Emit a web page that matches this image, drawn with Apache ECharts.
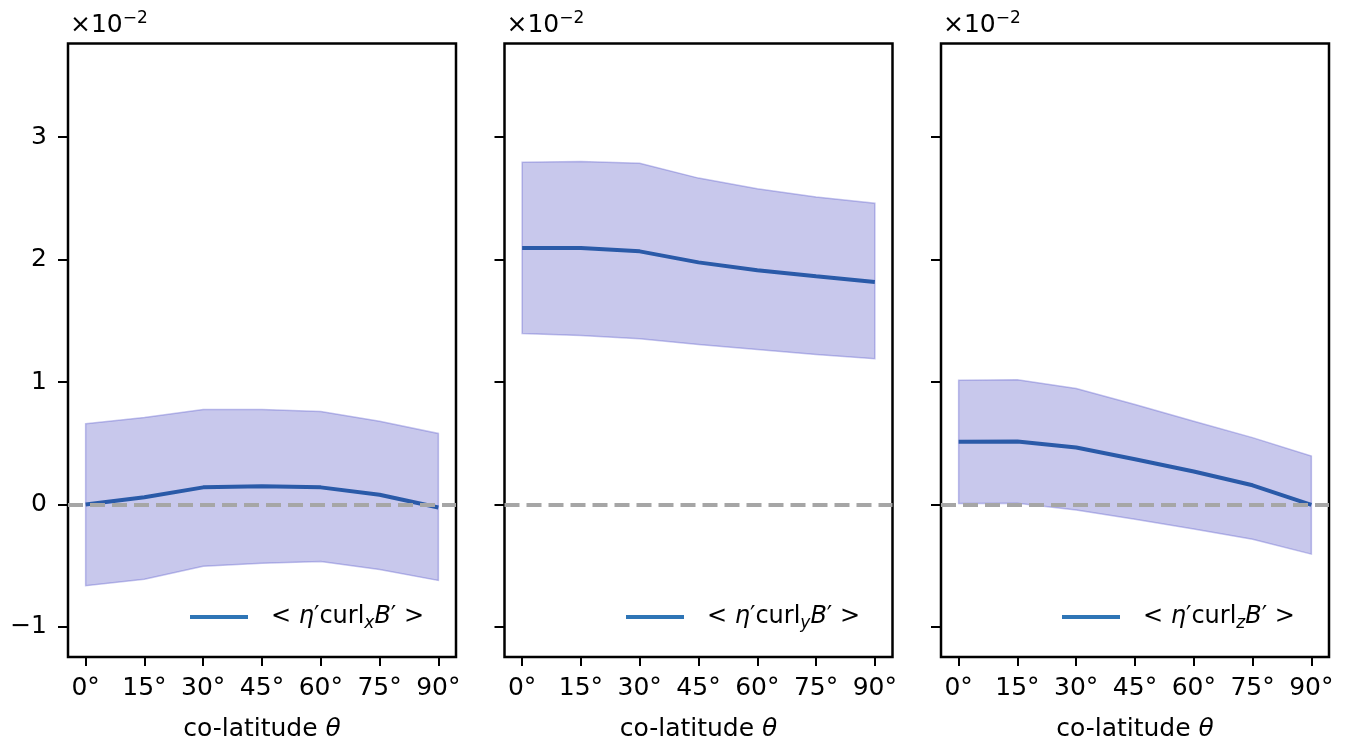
<!DOCTYPE html>
<html>
<head>
<meta charset="utf-8">
<script src="https://cdn.jsdelivr.net/npm/echarts@6/dist/echarts.min.js"></script>
<style>html,body{margin:0;padding:0;background:#fff}#c{width:1345px;height:747px}</style>
</head>
<body>
<div id="c"></div>
<script>
// ---- data (values in units of 1e-2) ----
const angles = [0, 15, 30, 45, 60, 75, 90];
const xTickValues = [0, 15, 30, 45, 60, 75, 90];
const yTickValues = [-1, 0, 1, 2, 3];

const meanX  = [0.0, 0.06, 0.14, 0.15, 0.14, 0.08, -0.025];
const upperX = [0.66, 0.71, 0.775, 0.775, 0.76, 0.68, 0.58];
const lowerX = [-0.663, -0.61, -0.505, -0.48, -0.465, -0.53, -0.62];

const meanY  = [2.094, 2.094, 2.067, 1.977, 1.912, 1.863, 1.817];
const upperY = [2.795, 2.80, 2.787, 2.665, 2.578, 2.51, 2.46];
const lowerY = [1.396, 1.38, 1.353, 1.306, 1.266, 1.225, 1.19];

const meanZ  = [0.513, 0.515, 0.465, 0.37, 0.27, 0.157, -0.003];
const upperZ = [1.015, 1.018, 0.948, 0.817, 0.68, 0.546, 0.396];
const lowerZ = [0.008, 0.01, -0.044, -0.12, -0.2, -0.283, -0.405];

const seriesNames = ['<η′curl_xB′>', '<η′curl_yB′>', '<η′curl_zB′>'];
const subscripts = ['x', 'y', 'z'];
const offsetText = ['×10', '−2'];

// ---- layout ----
const FONT = 'DejaVu Sans';
const FS = 25;
const gridLefts = [68, 504.5, 941];
const gridW = 388;
const gridTop = 43.5, gridH = 614.5;
const legendLefts = [190, 626, 1062];

const panels = [
  {mean: meanX, upper: upperX, lower: lowerX},
  {mean: meanY, upper: upperY, lower: lowerY},
  {mean: meanZ, upper: upperZ, lower: lowerZ}
];

const grids = [], xAxes = [], yAxes = [], series = [], legends = [], graphics = [];

panels.forEach((p, k) => {
  grids.push({left: gridLefts[k], top: gridTop, width: gridW, height: gridH,
    show: true, borderColor: '#000', borderWidth: 2.5, backgroundColor: 'transparent'});
  xAxes.push({type: 'value', gridIndex: k, min: -4.5, max: 94.5, position: 'bottom',
    splitLine: {show: false}, axisLine: {show: false, onZero: false},
    axisTick: {show: true, length: 9, lineStyle: {color: '#000', width: 2}, customValues: xTickValues},
    axisLabel: {show: true, customValues: xTickValues, margin: 19, color: '#000', fontFamily: FONT, fontSize: FS,
      formatter: v => v + '°'},
    name: '{n|co-latitude }{i|θ}', nameLocation: 'middle', nameGap: 60,
    nameTextStyle: {rich: {
      n: {fontFamily: FONT, fontSize: FS, color: '#000'},
      i: {fontFamily: FONT, fontSize: FS, fontStyle: 'italic', color: '#000'}}}
  });
  yAxes.push({type: 'value', gridIndex: k, min: -1.245, max: 3.764, position: 'left',
    splitLine: {show: false}, axisLine: {show: false, onZero: false},
    axisTick: {show: true, length: 10, lineStyle: {color: '#000', width: 2}, customValues: yTickValues},
    axisLabel: {show: k === 0, customValues: yTickValues, margin: 21, color: '#000', fontFamily: FONT, fontSize: FS,
      formatter: v => (v < 0 ? '−' + Math.abs(v) : String(v))}
  });
  // zero reference line
  series.push({type: 'line', name: 'zero' + k, xAxisIndex: k, yAxisIndex: k, data: [], z: 1, silent: true,
    markLine: {silent: true, symbol: ['none', 'none'], label: {show: false},
      lineStyle: {type: [15, 7], width: 4, color: '#a6a6a6'},
      emphasis: {disabled: true},
      data: [{yAxis: 0}]}
  });
  // band
  series.push({type: 'custom', name: 'band' + k, xAxisIndex: k, yAxisIndex: k, z: 2, silent: true,
    data: angles.map((a, i) => [a, p.lower[i], p.upper[i]]),
    encode: {x: 0, y: [1, 2]},
    renderItem: (params, api) => {
      if (params.dataIndex !== 0) return null;
      const pts = [];
      for (let i = 0; i < angles.length; i++) pts.push(api.coord([angles[i], p.upper[i]]));
      for (let i = angles.length - 1; i >= 0; i--) pts.push(api.coord([angles[i], p.lower[i]]));
      return {type: 'polygon', shape: {points: pts},
        style: {fill: 'rgba(72,72,192,0.3)', stroke: 'rgba(72,72,200,0.32)', lineWidth: 1.5}};
    }
  });
  // mean
  series.push({type: 'line', name: seriesNames[k], xAxisIndex: k, yAxisIndex: k, z: 3,
    data: angles.map((a, i) => [a, p.mean[i]]),
    showSymbol: false, symbol: 'none',
    lineStyle: {width: 4, color: '#2a5aa8'}, itemStyle: {color: '#2a5aa8'}
  });
  legends.push({left: legendLefts[k], top: 605, padding: 0, orient: 'horizontal',
    itemWidth: 58, itemHeight: 4, selectedMode: false,
    data: [{name: seriesNames[k], icon: 'rect', itemStyle: {color: '#2e75b6'}}],
    formatter: () => '{n|< }{i|η}{n|′curl}{s|' + subscripts[k] + '}{i|B}{n|′ >}',
    textStyle: {padding: [0, 0, 0, 18], rich: {
      n: {fontFamily: FONT, fontSize: 24, color: '#000', lineHeight: 30},
      i: {fontFamily: FONT, fontSize: 24, fontStyle: 'italic', color: '#000', lineHeight: 30},
      s: {fontFamily: FONT, fontSize: 17, fontStyle: 'italic', color: '#000', lineHeight: 14, verticalAlign: 'bottom'}}}
  });
  graphics.push({type: 'text', left: gridLefts[k] + 2, top: 10, silent: true,
    style: {text: '{n|' + offsetText[0] + '}{s|' + offsetText[1] + '}',
      rich: {
        n: {fontFamily: FONT, fontSize: FS, fill: '#000', lineHeight: 30, verticalAlign: 'middle'},
        s: {fontFamily: FONT, fontSize: 17, fill: '#000', lineHeight: 14, verticalAlign: 'top'}}}
  });
});

const chart = echarts.init(document.getElementById('c'), null, {renderer: 'canvas'});
chart.setOption({
  backgroundColor: '#fff',
  animation: false,
  grid: grids, xAxis: xAxes, yAxis: yAxes, series: series, legend: legends, graphic: graphics
});
</script>
</body>
</html>
